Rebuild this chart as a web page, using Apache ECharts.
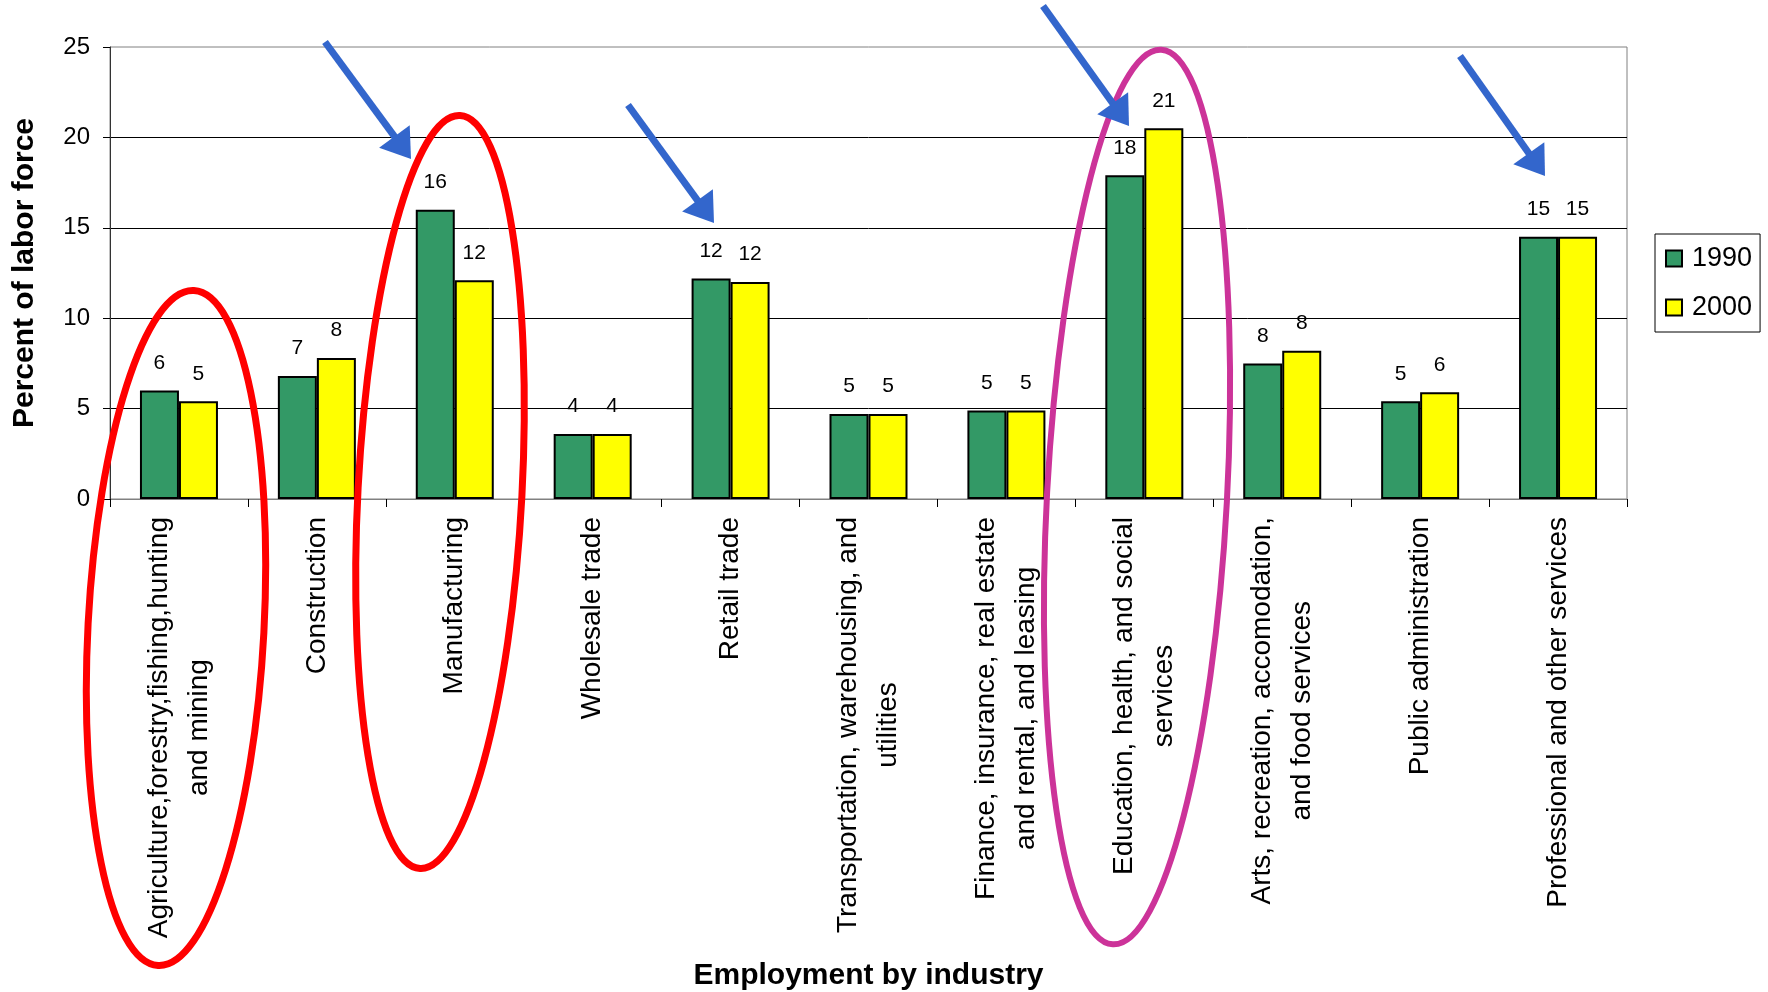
<!DOCTYPE html>
<html>
<head>
<meta charset="utf-8">
<script src="https://cdn.jsdelivr.net/npm/echarts@6/dist/echarts.min.js"></script>
<style>
  html, body { margin: 0; padding: 0; background: #fff; }
  #chart { width: 1768px; height: 992px; }
</style>
</head>
<body>
<div id="chart"></div>
<script>
// ---- data ----
const categories = [
  'Agriculture,forestry,fishing,hunting\nand mining',
  'Construction',
  'Manufacturing',
  'Wholesale trade',
  'Retail trade',
  'Transportation, warehousing, and\nutilities',
  'Finance, insurance, real estate\nand rental, and leasing',
  'Education, health, and social\nservices',
  'Arts, recreation, accomodation,\nand food services',
  'Public administration',
  'Professional and other services'
];
const seriesNames = ['1990', '2000'];
const values1990 = [6.0, 6.8, 16.0, 3.6, 12.2, 4.7, 4.9, 17.9, 7.5, 5.4, 14.5];
const values2000 = [5.4, 7.8, 12.1, 3.6, 12.0, 4.7, 4.9, 20.5, 8.2, 5.9, 14.5];
const yTicks = [0, 5, 10, 15, 20, 25];
const yAxisTitle = 'Percent of labor force';
const xAxisTitle = 'Employment by industry';

// ---- chart ----
const FONT = "'Liberation Sans', Arial, sans-serif";
const chart = echarts.init(document.getElementById('chart'), null, { renderer: 'canvas' });

function arrow(sx, sy, tx, ty) {
  const dx = tx - sx, dy = ty - sy;
  const len = Math.sqrt(dx * dx + dy * dy);
  const ux = dx / len, uy = dy / len;
  const nx = -uy, ny = ux;
  const L = 28, W = 19;
  const bx = tx - ux * L, by = ty - uy * L;
  return [
    { type: 'line', z: 100, shape: { x1: sx, y1: sy, x2: bx + ux * 4, y2: by + uy * 4 },
      style: { stroke: '#3366CC', lineWidth: 7 } },
    { type: 'polygon', z: 100, shape: { points: [[tx, ty], [bx + nx * W, by + ny * W], [bx - nx * W, by - ny * W]] },
      style: { fill: '#3366CC' } }
  ];
}
function ellipse(cx, cy, rx, ry, rot, color, w) {
  return { type: 'ellipse', z: 99, x: cx, y: cy, rotation: rot,
    shape: { cx: 0, cy: 0, rx: rx, ry: ry },
    style: { fill: 'none', stroke: color, lineWidth: w } };
}

const graphics = [].concat(
  [ellipse(176, 628, 88, 338, -0.053, '#FF0000', 7),
   ellipse(440, 492, 82, 377, -0.053, '#FF0000', 7),
   ellipse(1137, 497, 90, 448, -0.054, '#CC3399', 6)],
  arrow(325, 42, 411, 159),
  arrow(628, 105, 714, 223),
  arrow(1043, 6, 1129, 126),
  arrow(1460, 56, 1545, 176)
);

const barLabel = {
  show: true, position: 'top', distance: 17,
  fontSize: 21, fontFamily: FONT, color: '#000',
  formatter: p => String(Math.round(p.value))
};

const option = {
  animation: false,
  backgroundColor: '#fff',
  textStyle: { fontFamily: FONT },
  grid: {
    left: 110, right: 141, top: 47, bottom: 493,
    show: true, borderColor: '#808080', borderWidth: 1,
    outerBoundsMode: 'none', containLabel: false
  },
  legend: {
    data: seriesNames,
    orient: 'vertical',
    left: 1655, top: 234,
    backgroundColor: '#fff',
    borderColor: '#000', borderWidth: 1, borderRadius: 0,
    padding: [11, 8, 11, 10],
    itemGap: 22, itemWidth: 16, itemHeight: 16,
    icon: 'rect',
    textStyle: { fontSize: 27, color: '#000', fontFamily: FONT, padding: [0, 0, 0, 5] }
  },
  xAxis: {
    type: 'category',
    data: categories,
    name: xAxisTitle,
    nameLocation: 'middle',
    nameGap: 462,
    nameTextStyle: { fontSize: 30, fontWeight: 'bold', color: '#000', fontFamily: FONT },
    axisLine: { show: true, lineStyle: { color: '#808080', width: 1 } },
    axisTick: { show: true, length: 8, alignWithLabel: false, lineStyle: { color: '#000', width: 1 } },
    axisLabel: {
      interval: 0, rotate: 90, margin: 18,
      formatter: v => v.split('\n').map(s => '{c|' + s + '}').join('\n'),
      rich: { c: { fontSize: 28, lineHeight: 40, align: 'center', color: '#000', fontFamily: FONT } }
    },
    splitLine: { show: false }
  },
  yAxis: {
    type: 'value',
    min: yTicks[0], max: yTicks[yTicks.length - 1], interval: 5,
    name: yAxisTitle,
    nameLocation: 'middle',
    nameGap: 70,
    nameTextStyle: { fontSize: 30, fontWeight: 'bold', color: '#000', fontFamily: FONT },
    axisLine: { show: true, lineStyle: { color: '#333', width: 1 } },
    axisTick: { show: true, length: 7, inside: false, lineStyle: { color: '#000', width: 1 } },
    axisLabel: { fontSize: 24, color: '#000', margin: 20, fontFamily: FONT },
    splitLine: { show: true, showMinLine: false, showMaxLine: false, lineStyle: { color: '#000', width: 1 } }
  },
  series: [
    {
      name: seriesNames[0], type: 'bar', data: values1990,
      barWidth: 39, barGap: '0%',
      itemStyle: { color: '#339966', borderColor: '#000', borderWidth: 2 },
      label: barLabel
    },
    {
      name: seriesNames[1], type: 'bar', data: values2000,
      barWidth: 39, barGap: '0%',
      itemStyle: { color: '#FFFF00', borderColor: '#000', borderWidth: 2 },
      label: barLabel
    }
  ],
  graphic: graphics
};
chart.setOption(option);
</script>
</body>
</html>
